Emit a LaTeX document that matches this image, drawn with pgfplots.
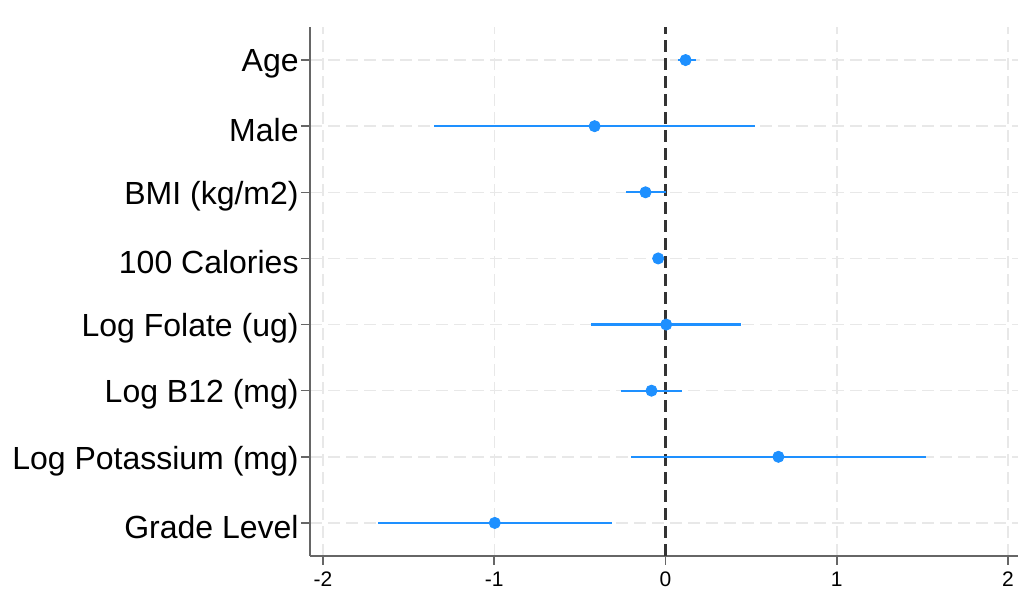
\documentclass[border=0pt]{standalone}
\usepackage{fontspec}
\setmainfont{Liberation Sans}
\usepackage{pgfplots}
\usepackage{pgfplotstable}
\pgfplotsset{compat=1.18}
\definecolor{ciblue}{RGB}{30,144,255}
\pgfplotstableread{
pos est ep em
8 0.117 0.058 0.047
7 -0.414 0.939 0.937
6 -0.117 0.117 0.116
5 -0.043 0.033 0.033
4 0.004 0.439 0.441
3 -0.082 0.179 0.176
2 0.659 0.863 0.863
1 -0.997 0.687 0.683
}\data
\begin{document}
\begin{tikzpicture}
\begin{axis}[
  scale only axis, width=354pt, height=264.5pt,
  xmin=-2.076, xmax=2.058, ymin=0.5, ymax=8.5,
  axis x line*=bottom, axis y line*=left,
  axis line style={draw=black!60, line width=0.8pt},
  xtick={-2,-1,0,1,2}, xticklabels={{-2},{-1},0,1,2},
  ytick={1,...,8},
  yticklabels={Grade Level, Log Potassium (mg), Log B12 (mg), Log Folate (ug), 100 Calories, BMI (kg/m2), Male, Age},
  tick style={draw=black!60, line width=0.8pt},
  tick align=outside, major tick length=4.5pt,
  yticklabel style={font=\fontsize{16}{19}\selectfont, inner sep=1pt, yshift=-2pt},
  xticklabel style={font=\fontsize{10.5}{12}\selectfont},
  grid=major,
  major grid style={draw=black!9, dash pattern=on 6pt off 3pt, line width=0.75pt},
  clip=false,
]
\coordinate (sw) at (rel axis cs:0,0);
\coordinate (ne) at (rel axis cs:1,1);
\addplot[draw=black!80, line width=1.2pt, dash pattern=on 6pt off 3pt] coordinates {(0,0.5) (0,8.5)};
\addplot[only marks, mark=*, mark size=2.8pt, color=ciblue,
  error bars/.cd, x dir=both, x explicit, error mark=none,
  error bar style={line width=1.1pt, ciblue}]
  table[x=est, y=pos, x error plus=ep, x error minus=em] {\data};
\end{axis}
\pgfresetboundingbox
\path ([shift={(-155pt,-20pt)}]sw) rectangle ([shift={(1pt,13.5pt)}]ne);
\end{tikzpicture}
\end{document}
